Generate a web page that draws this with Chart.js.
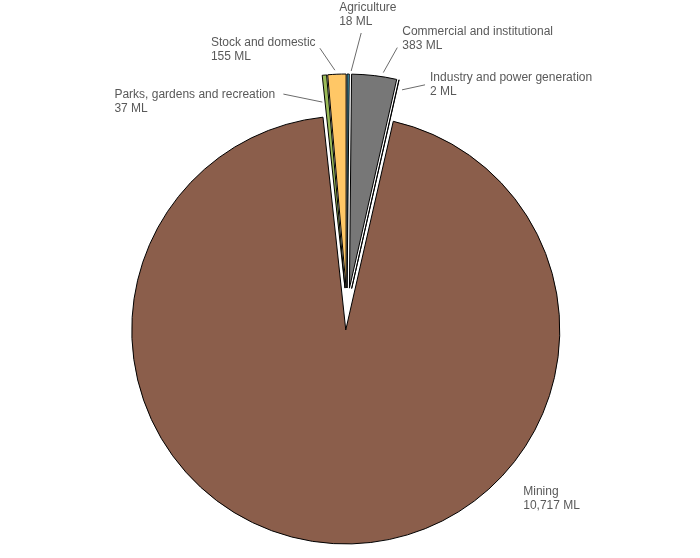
<!DOCTYPE html>
<html>
<head>
<meta charset="utf-8">
<script src="https://cdn.jsdelivr.net/npm/chart.js@4/dist/chart.umd.min.js"></script>
<style>
  html, body { margin: 0; padding: 0; background: #fff; }
  #wrap { width: 700px; height: 558px; position: relative; }
</style>
</head>
<body>
<div id="wrap"><canvas id="pieChart"></canvas></div>
<script>
// Water use by sector (ML)
const categories = [
  'Agriculture',
  'Commercial and institutional',
  'Industry and power generation',
  'Mining',
  'Parks, gardens and recreation',
  'Stock and domestic'
];
const volumes = [18, 383, 2, 10717, 37, 155];
const valueLabels = ['18 ML', '383 ML', '2 ML', '10,717 ML', '37 ML', '155 ML'];

const sliceColors = ['#4bacc6', '#777777', '#eef6f8', '#8b5e4b', '#9bbb59', '#ffc766'];

// where each label sits, relative to the outer edge of its slice
// t = text (left, middle of first line), s/e = leader line start/end, null = no leader
const labelPlacement = [
  { t: [-9, -66], s: [13, -41], e: [3, -3] },
  { t: [28, -44], s: [23, -28], e: [9, -3] },
  { t: [31, -2], s: [26, 5], e: [3, 10] },
  { t: [190, -52], s: null, e: null },
  { t: [-210, 20], s: [-41, 19], e: [-2, 27] },
  { t: [-126, -32], s: [-17, -26], e: [-2, -4] }
];

// every slice is pulled out from the centre by this much (px).
// the built-in "offset" option also trims the slice angle, so do it by hand
const explode = 21;
const baseArcDraw = Chart.ArcElement.prototype.draw;
Chart.ArcElement.prototype.draw = function (ctx) {
  const half = (this.startAngle + this.endAngle) / 2;
  ctx.save();
  ctx.translate(Math.cos(half) * explode, Math.sin(half) * explode);
  baseArcDraw.call(this, ctx);
  ctx.restore();
};

// Draws the outside labels and leader lines
const outsideLabels = {
  id: 'outsideLabels',
  afterDatasetsDraw(chart) {
    const ctx = chart.ctx;
    const arcs = chart.getDatasetMeta(0).data;
    ctx.save();
    ctx.font = '12px "Liberation Sans", Arial, sans-serif';
    ctx.textAlign = 'left';
    ctx.textBaseline = 'middle';
    arcs.forEach((arc, i) => {
      const { x, y, startAngle, endAngle, outerRadius } = arc.getProps(['x', 'y', 'startAngle', 'endAngle', 'outerRadius'], true);
      const mid = (startAngle + endAngle) / 2;
      const r = outerRadius + explode;
      const ax = x + Math.cos(mid) * r;
      const ay = y + Math.sin(mid) * r;
      const p = labelPlacement[i];

      if (p.s) {
        ctx.strokeStyle = '#6b6b6b';
        ctx.lineWidth = 1;
        ctx.beginPath();
        ctx.moveTo(ax + p.s[0], ay + p.s[1]);
        ctx.lineTo(ax + p.e[0], ay + p.e[1]);
        ctx.stroke();
      }

      ctx.fillStyle = '#595959';
      ctx.fillText(categories[i], ax + p.t[0], ay + p.t[1]);
      ctx.fillText(valueLabels[i], ax + p.t[0], ay + p.t[1] + 14);
    });
    ctx.restore();
  }
};

const ctx = document.getElementById('pieChart').getContext('2d');
const chart = new Chart(ctx, {
  type: 'pie',
  data: {
    labels: categories,
    datasets: [{
      data: volumes,
      backgroundColor: sliceColors,
      borderColor: '#000000',
      borderWidth: 1
    }]
  },
  options: {
    responsive: true,
    maintainAspectRatio: false,
    animation: false,
    radius: 214,
    layout: { padding: { top: 60, bottom: 0, left: 0, right: 6 } },
    plugins: {
      legend: { display: false },
      tooltip: { enabled: false }
    }
  },
  plugins: [outsideLabels]
});
</script>
</body>
</html>
